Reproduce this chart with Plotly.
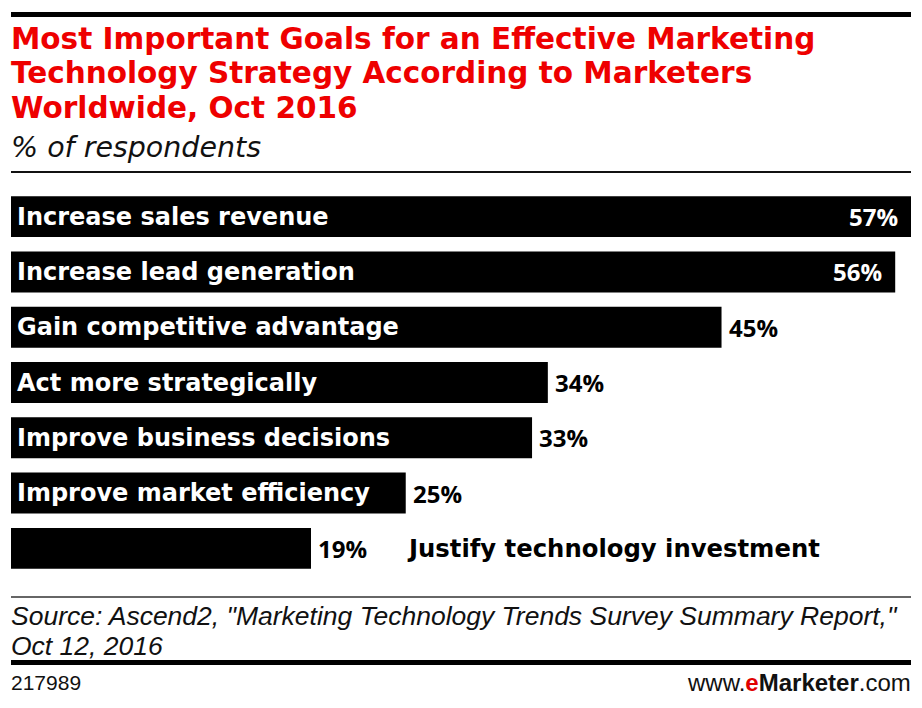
import plotly.graph_objects as go

categories = [
    "Increase sales revenue",
    "Increase lead generation",
    "Gain competitive advantage",
    "Act more strategically",
    "Improve business decisions",
    "Improve market efficiency",
    "Justify technology investment",
]
values = [57, 56, 45, 34, 33, 25, 19]
value_labels = ["57%", "56%", "45%", "34%", "33%", "25%", "19%"]

title_lines = [
    "Most Important Goals for an Effective Marketing",
    "Technology Strategy According to Marketers",
    "Worldwide, Oct 2016",
]
subtitle = "% of respondents"
source_lines = [
    'Source: Ascend2, "Marketing Technology Trends Survey Summary Report,"',
    "Oct 12, 2016",
]
chart_id = "217989"

W, H = 922, 708
ML, MR, MT, MB = 11, 11, 189, 132
PH = H - MT - MB


def py(ypx):
    return (H - MB - ypx) / PH


HEAVY = "DejaVu Sans"
fig = go.Figure()
fig.add_trace(go.Bar(
    x=values, y=categories, orientation="h",
    marker=dict(color="#000000", line=dict(width=0)),
    hoverinfo="skip",
))

ann = []
# title
for t, yc in zip(title_lines, [39, 73.5, 108]):
    ann.append(dict(text=f"<b>{t}</b>", xref="paper", yref="paper", x=0, y=py(yc),
                    xanchor="left", yanchor="middle", showarrow=False, xshift=-2,
                    font=dict(family=HEAVY, size=29.5, color="#ee0000")))
ann.append(dict(text=f"<i>{subtitle}</i>", xref="paper", yref="paper", x=0, y=py(147),
                xanchor="left", yanchor="middle", showarrow=False, xshift=-2,
                font=dict(family="DejaVu Sans", size=28.5, color="#111111")))

inside_n = 2
for i, (cat, v, lab) in enumerate(zip(categories, values, value_labels)):
    if i < len(categories) - 1:
        ann.append(dict(text=f"<b>{cat}</b>", x=0, y=cat, xref="x", yref="y",
                        xanchor="left", yanchor="middle", showarrow=False, xshift=4,
                        font=dict(family=HEAVY, size=24, color="#ffffff")))
    else:
        ann.append(dict(text=f"<b>{cat}</b>", x=v, y=cat, xref="x", yref="y",
                        xanchor="left", yanchor="middle", showarrow=False, xshift=94,
                        font=dict(family=HEAVY, size=24.3, color="#000000")))
    if i < inside_n:
        ann.append(dict(text=f"<b>{lab}</b>", x=v, y=cat, xref="x", yref="y",
                        xanchor="right", yanchor="middle", showarrow=False, xshift=-11,
                        font=dict(family="Open Sans", size=24, color="#ffffff")))
    else:
        ann.append(dict(text=f"<b>{lab}</b>", x=v, y=cat, xref="x", yref="y",
                        xanchor="left", yanchor="middle", showarrow=False, xshift=5,
                        font=dict(family="Open Sans", size=24, color="#000000")))

for t, yc in zip(source_lines, [615.5, 645.5]):
    ann.append(dict(text=f"<i>{t}</i>", xref="paper", yref="paper", x=0, y=py(yc),
                    xanchor="left", yanchor="middle", showarrow=False, xshift=-2,
                    font=dict(family="Liberation Sans", size=26.5, color="#111111")))
ann.append(dict(text=chart_id, xref="paper", yref="paper", x=0, y=py(682),
                xanchor="left", yanchor="middle", showarrow=False, xshift=-2,
                font=dict(family="Liberation Sans", size=21, color="#111111")))
ann.append(dict(text='www.<b><span style="color:#e00000">e</span>Marketer</b>.com',
                xref="paper", yref="paper", x=1, y=py(682),
                xanchor="right", yanchor="middle", showarrow=False, xshift=2,
                font=dict(family="Liberation Sans", size=24, color="#111111")))

shapes = [
    dict(type="line", xref="paper", yref="paper", x0=0, x1=1, y0=py(14.5), y1=py(14.5),
         line=dict(color="#000000", width=5)),
    dict(type="line", xref="paper", yref="paper", x0=0, x1=1, y0=py(172), y1=py(172),
         line=dict(color="#111111", width=2)),
    dict(type="line", xref="paper", yref="paper", x0=0, x1=1, y0=py(597), y1=py(597),
         line=dict(color="#333333", width=1.5)),
    dict(type="line", xref="paper", yref="paper", x0=0, x1=1, y0=py(662.5), y1=py(662.5),
         line=dict(color="#000000", width=5)),
]

fig.update_layout(
    width=W, height=H,
    margin=dict(l=ML, r=MR, t=MT, b=MB, pad=0),
    paper_bgcolor="#ffffff", plot_bgcolor="#ffffff",
    bargap=0.26, showlegend=False,
    xaxis=dict(range=[0, 57], visible=False, fixedrange=True),
    yaxis=dict(autorange="reversed", visible=False, fixedrange=True),
    annotations=ann, shapes=shapes,
)
fig.write_html("out.html")
